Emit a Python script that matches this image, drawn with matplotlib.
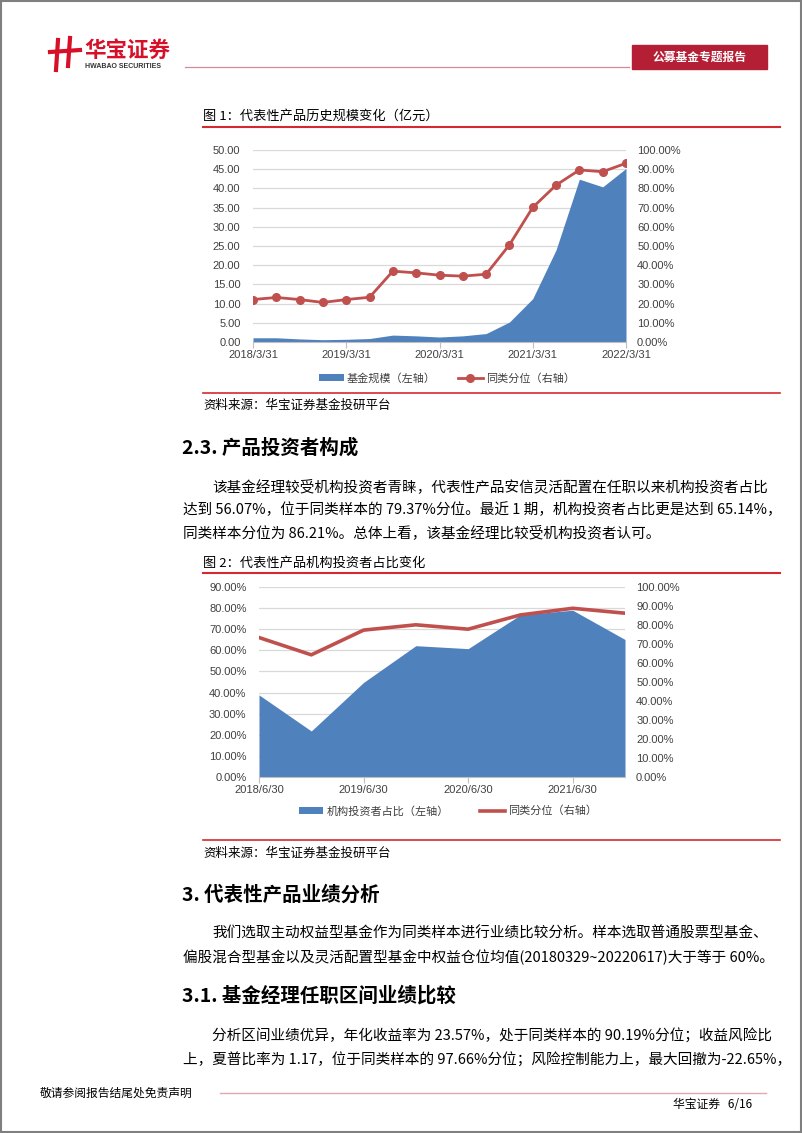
import numpy as np
import matplotlib.pyplot as plt
from matplotlib.patches import Rectangle
from matplotlib.lines import Line2D
from matplotlib.ticker import FuncFormatter

plt.rcParams['font.family'] = ['Noto Sans CJK SC', 'DejaVu Sans']

## data
# 图1: quarterly, 2018/3/31 .. 2022/3/31
scale_dates = ['2018/3/31', '2018/6/30', '2018/9/30', '2018/12/31',
               '2019/3/31', '2019/6/30', '2019/9/30', '2019/12/31',
               '2020/3/31', '2020/6/30', '2020/9/30', '2020/12/31',
               '2021/3/31', '2021/6/30', '2021/9/30', '2021/12/31', '2022/3/31']
fund_scale = [1.1, 1.1, 0.8, 0.6, 0.7, 0.9, 1.8, 1.6, 1.3, 1.6, 2.2,
              5.2, 11.3, 24.0, 42.4, 40.4, 45.2]            # 亿元
scale_rank = [22.1, 23.2, 22.1, 20.6, 22.1, 23.3, 36.9, 36.0, 34.8, 34.3, 35.3,
              50.6, 70.1, 81.7, 89.6, 88.7, 93.1]          # %

# 图2: semi-annual, 2018/6/30 .. 2021/12/31
inst_dates = ['2018/6/30', '2018/12/31', '2019/6/30', '2019/12/31',
              '2020/6/30', '2020/12/31', '2021/6/30', '2021/12/31']
inst_share = [38.9, 21.8, 44.8, 62.2, 60.8, 76.8, 79.0, 65.14]  # %
inst_rank = [73.4, 64.3, 77.3, 80.1, 77.8, 85.3, 88.8, 86.21]   # %

W, H = 802, 1133
BLUE = '#4f81bd'
RED = '#c0504d'
LINE_RED = '#d42a2f'
GRID = '#d9d9d9'
TXT = '#404040'
tickfont = ['Liberation Sans', 'DejaVu Sans']

fig = plt.figure(figsize=(W / 100, H / 100), dpi=100)


def rect(l, t, r, b):
    return [l / W, 1 - b / H, (r - l) / W, (b - t) / H]


def fx(x):
    return x / W


def fy(y):
    return 1 - y / H


def hline(x0, x1, y, color, lw):
    fig.add_artist(Line2D([fx(x0), fx(x1)], [fy(y), fy(y)], color=color, lw=lw))


def text(x, y, s, **kw):
    kw.setdefault('va', 'center')
    kw.setdefault('fontsize', 10.5)
    kw.setdefault('color', 'black')
    fig.text(fx(x), fy(y), s, **kw)


def style_axes(ax, ax2):
    for a in (ax, ax2):
        for sp in a.spines.values():
            sp.set_visible(False)
    ax.spines['bottom'].set_visible(True)
    ax.spines['bottom'].set_color('#bfbfbf')
    ax.grid(axis='y', color=GRID, lw=0.9)
    ax.set_axisbelow(True)
    ax.tick_params(axis='y', length=0, pad=9, labelsize=8, labelcolor=TXT)
    ax2.tick_params(axis='y', length=0, pad=8, labelsize=8, labelcolor=TXT)
    ax.tick_params(axis='x', length=4, color='#bfbfbf', pad=2, labelsize=8, labelcolor=TXT)
    for lab in ax.get_xticklabels() + ax.get_yticklabels() + ax2.get_yticklabels():
        lab.set_family(tickfont)


# page border
fig.add_artist(Rectangle((0.001, 0.001), 0.998, 0.998, transform=fig.transFigure,
                         fill=False, ec='#7f7f7f', lw=1.5))

# header
logo_red = '#d7102a'
for x0, y0, x1, y1 in [(58, 40, 56, 70), (70, 38, 68, 66), (50, 52, 80, 50)]:
    fig.add_artist(Line2D([fx(x0), fx(x1)], [fy(y0), fy(y1)], color=logo_red, lw=3))
text(84, 50, '华宝证券', fontsize=15.5, fontweight='bold', color=logo_red)
text(85, 66.5, 'HWABAO SECURITIES', fontsize=5, fontweight='bold', color='#333333',
     family=tickfont)
hline(185, 629, 67, '#d48a94', 0.9)
fig.add_artist(Rectangle((fx(632), fy(69)), fx(767) - fx(632), fy(45) - fy(69),
                         transform=fig.transFigure, color='#b51f35'))
text(699.5, 57, '公募基金专题报告', fontsize=8.5, color='white', ha='center', fontweight='bold')

# ---------- 图1 ----------
text(203, 116, '图 1：代表性产品历史规模变化（亿元）', fontsize=9.5)
hline(203, 780, 127, LINE_RED, 1.5)

x1 = np.arange(len(scale_dates))
ax = fig.add_axes(rect(253, 150, 626, 342))
ax.fill_between(x1, 0, fund_scale, color=BLUE, lw=0, label='基金规模（左轴）')
ax.set_xlim(0, len(scale_dates) - 1)
ax.set_ylim(0, 50)
ax.set_yticks(np.arange(0, 50.1, 5))
ax.yaxis.set_major_formatter(FuncFormatter(lambda v, p: f'{v:.2f}'))
ax.set_xticks(x1[::4])
ax.set_xticklabels(scale_dates[::4])
ax2 = ax.twinx()
ax2.plot(x1, scale_rank, color=RED, lw=2, marker='o', ms=5.5, label='同类分位（右轴）')
ax2.set_ylim(0, 100)
ax2.set_yticks(np.arange(0, 100.1, 10))
ax2.yaxis.set_major_formatter(FuncFormatter(lambda v, p: f'{v:.2f}%'))
for a in (ax, ax2):
    a.patch.set_visible(False)
style_axes(ax, ax2)
h1, l1 = ax.get_legend_handles_labels()
h2, l2 = ax2.get_legend_handles_labels()
fig.legend(h1 + h2, l1 + l2, loc='center', bbox_to_anchor=(fx(447), fy(378)), ncol=2,
           frameon=False, fontsize=8, handlelength=2.2, handleheight=0.5,
           columnspacing=2.0, handletextpad=0.3, labelcolor=TXT)

hline(203, 780, 393, LINE_RED, 1.2)
text(203, 405, '资料来源：华宝证券基金投研平台', fontsize=9)

# ---------- 2.3 ----------
text(182, 448, '2.3. 产品投资者构成', fontsize=14, fontweight='bold')
text(212, 487, '该基金经理较受机构投资者青睐，代表性产品安信灵活配置在任职以来机构投资者占比')
text(183, 510, '达到 56.07%，位于同类样本的 79.37%分位。最近 1 期，机构投资者占比更是达到 65.14%，')
text(183, 533, '同类样本分位为 86.21%。总体上看，该基金经理比较受机构投资者认可。')

# ---------- 图2 ----------
text(203, 563, '图 2：代表性产品机构投资者占比变化', fontsize=9.5)
hline(203, 780, 573, LINE_RED, 1.5)

x2 = np.arange(len(inst_dates))
ax = fig.add_axes(rect(259, 587, 625, 777))
ax.fill_between(x2, 0, inst_share, color=BLUE, lw=0, label='机构投资者占比（左轴）')
ax.set_xlim(0, len(inst_dates) - 1)
ax.set_ylim(0, 90)
ax.set_yticks(np.arange(0, 90.1, 10))
ax.yaxis.set_major_formatter(FuncFormatter(lambda v, p: f'{v:.2f}%'))
ax.set_xticks(x2[::2])
ax.set_xticklabels(inst_dates[::2])
ax2 = ax.twinx()
ax2.plot(x2, inst_rank, color=RED, lw=2.6, label='同类分位（右轴）')
ax2.set_ylim(0, 100)
ax2.set_yticks(np.arange(0, 100.1, 10))
ax2.yaxis.set_major_formatter(FuncFormatter(lambda v, p: f'{v:.2f}%'))
for a in (ax, ax2):
    a.patch.set_visible(False)
style_axes(ax, ax2)
h1, l1 = ax.get_legend_handles_labels()
h2, l2 = ax2.get_legend_handles_labels()
fig.legend(h1 + h2, l1 + l2, loc='center', bbox_to_anchor=(fx(448), fy(811)), ncol=2,
           frameon=False, fontsize=8, handlelength=2.2, handleheight=0.5,
           columnspacing=2.8, handletextpad=0.3, labelcolor=TXT)

hline(203, 780, 840, LINE_RED, 1.2)
text(203, 853, '资料来源：华宝证券基金投研平台', fontsize=9)

# ---------- 3 ----------
text(182, 895, '3. 代表性产品业绩分析', fontsize=14, fontweight='bold')
text(212, 934, '我们选取主动权益型基金作为同类样本进行业绩比较分析。样本选取普通股票型基金、')
text(183, 957, '偏股混合型基金以及灵活配置型基金中权益仓位均值(20180329~20220617)大于等于 60%。')

text(182, 996, '3.1. 基金经理任职区间业绩比较', fontsize=14, fontweight='bold')
text(212, 1036, '分析区间业绩优异，年化收益率为 23.57%，处于同类样本的 90.19%分位；收益风险比')
text(183, 1060, '上，夏普比率为 1.17，位于同类样本的 97.66%分位；风险控制能力上，最大回撤为-22.65%，')

# footer
text(40, 1093, '敬请参阅报告结尾处免责声明', fontsize=8.5)
hline(220, 766, 1093, '#e3a7b0', 1.0)
text(752, 1105, '华宝证券   6/16', fontsize=8.5, ha='right')

fig.savefig('out.png', dpi=100)
print('done')
